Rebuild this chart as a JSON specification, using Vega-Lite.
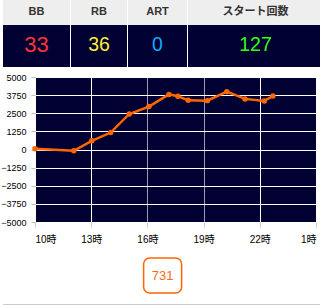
{
  "$schema": "https://vega.github.io/schema/vega-lite/v6.json",
  "padding": 0,
  "background": "white",
  "config": {
    "view": {"stroke": null},
    "font": "Liberation Sans, Noto Sans CJK JP, sans-serif",
    "text": {"font": "Liberation Sans, Noto Sans CJK JP, sans-serif"}
  },
  "spacing": 5,
  "vconcat": [
    {
      "spacing": 0,
      "vconcat": [
        {
          "spacing": 1,
          "hconcat": [
            {"width": 67, "height": 25, "view": {"fill": "#eeeeee", "stroke": null}, "data": {"values": [{"label": "BB"}]}, "mark": {"type": "text", "fontSize": 11, "fontWeight": "bold", "color": "#333333", "dy": -1}, "encoding": {"text": {"field": "label"}}},
            {"width": 56, "height": 25, "view": {"fill": "#eeeeee", "stroke": null}, "data": {"values": [{"label": "RB"}]}, "mark": {"type": "text", "fontSize": 11, "fontWeight": "bold", "color": "#333333", "dy": -1}, "encoding": {"text": {"field": "label"}}},
            {"width": 59, "height": 25, "view": {"fill": "#eeeeee", "stroke": null}, "data": {"values": [{"label": "ART"}]}, "mark": {"type": "text", "fontSize": 11, "fontWeight": "bold", "color": "#333333", "dy": -1}, "encoding": {"text": {"field": "label"}}},
            {"width": 135, "height": 25, "view": {"fill": "#eeeeee", "stroke": null}, "data": {"values": [{"label": "スタート回数"}]}, "mark": {"type": "text", "fontSize": 11, "fontWeight": "bold", "color": "#333333", "dy": -1}, "encoding": {"text": {"field": "label"}}}
          ]
        },
        {
          "spacing": 1,
          "hconcat": [
            {"width": 67, "height": 42, "view": {"fill": "#000033", "stroke": null}, "data": {"values": [{"BB": 33}]}, "mark": {"type": "text", "fontSize": 22, "color": "#ff3333", "dy": -1}, "encoding": {"text": {"field": "BB"}}},
            {"width": 56, "height": 42, "view": {"fill": "#000033", "stroke": null}, "data": {"values": [{"RB": 36}]}, "mark": {"type": "text", "fontSize": 19.5, "color": "#ffee33", "dy": -1}, "encoding": {"text": {"field": "RB"}}},
            {"width": 59, "height": 42, "view": {"fill": "#000033", "stroke": null}, "data": {"values": [{"ART": 0}]}, "mark": {"type": "text", "fontSize": 19.5, "color": "#11aaff", "dy": -1}, "encoding": {"text": {"field": "ART"}}},
            {"width": 135, "height": 42, "view": {"fill": "#000033", "stroke": null}, "data": {"values": [{"start": 127}]}, "mark": {"type": "text", "fontSize": 19.5, "color": "#33ff11", "dy": -1}, "encoding": {"text": {"field": "start"}}}
          ]
        }
      ]
    },
    {
      "spacing": 12,
      "vconcat": [
        {
          "spacing": 0,
          "bounds": "flush",
          "hconcat": [
            {
              "width": 32, "height": 145,
              "data": {"values": [{"blank": ""}]},
              "mark": {"type": "text", "fontSize": 0},
              "encoding": {"text": {"field": "blank"}}
            },
            {
              "width": 281,
              "height": 145,
              "view": {"fill": "#000033", "stroke": "#cccccc"},
              "layer": [
                {
                  "data": {"values": [{"diff": 0}]},
                  "mark": {"type": "rule", "color": "#77ee44", "strokeWidth": 1.5},
                  "encoding": {"y": {"field": "diff", "type": "quantitative"}}
                },
                {
                  "data": {"values": [
                    {"hour": 10.0, "diff": 50},
                    {"hour": 12.07, "diff": -90},
                    {"hour": 13.03, "diff": 600},
                    {"hour": 14.04, "diff": 1170},
                    {"hour": 15.03, "diff": 2450},
                    {"hour": 16.08, "diff": 2960},
                    {"hour": 17.15, "diff": 3800},
                    {"hour": 17.63, "diff": 3670},
                    {"hour": 18.18, "diff": 3390},
                    {"hour": 19.2, "diff": 3370},
                    {"hour": 20.24, "diff": 3990},
                    {"hour": 21.21, "diff": 3490},
                    {"hour": 22.24, "diff": 3350},
                    {"hour": 22.7, "diff": 3690}
                  ]},
                  "mark": {"type": "line", "color": "#ff6600", "strokeWidth": 2.5, "point": {"filled": true, "size": 30, "color": "#ff6600"}},
                  "encoding": {
                    "x": {"field": "hour", "type": "quantitative"},
                    "y": {"field": "diff", "type": "quantitative"}
                  }
                }
              ],
              "encoding": {
                "x": {
                  "field": "hour", "type": "quantitative",
                  "scale": {"domain": [10, 25], "nice": false, "zero": false},
                  "axis": {
                    "title": null,
                    "values": [10, 13, 16, 19, 22, 25],
                    "labelExpr": "(datum.value % 24) + '時'",
                    "grid": true,
                    "gridColor": {"condition": {"test": "datum.value == 16 || datum.value == 19", "value": "#9a9ab8"}, "value": "#ffffff"},
                    "domain": false,
                    "tickColor": "#cccccc",
                    "tickSize": 5,
                    "labelPadding": 7,
                    "labelFontSize": 10,
                    "labelColor": "#000000",
                    "labelFont": "Liberation Sans, Noto Sans CJK JP, sans-serif"
                  }
                },
                "y": {
                  "field": "diff", "type": "quantitative",
                  "scale": {"domain": [-5000, 5000], "nice": false},
                  "axis": {
                    "title": null,
                    "format": "d",
                    "values": [-5000, -3750, -2500, -1250, 0, 1250, 2500, 3750, 5000],
                    "grid": true,
                    "gridColor": "#ffffff",
                    "domain": false,
                    "tickColor": "#bbbbbb",
                    "tickSize": 4,
                    "labelPadding": 5,
                    "labelFontSize": 9,
                    "labelColor": "#000000",
                    "labelFont": "Liberation Sans, sans-serif"
                  }
                }
              }
            }
          ]
        },
        {
          "spacing": 10,
          "center": true,
          "vconcat": [
            {
              "width": 38, "height": 35,
              "view": {"fill": "#ffffff", "stroke": "#ff6600", "strokeWidth": 1.5, "cornerRadius": 6},
              "data": {"values": [{"count": 731}]},
              "mark": {"type": "text", "fontSize": 13, "color": "#ff6a10"},
              "encoding": {"text": {"field": "count"}}
            },
            {
              "width": 320, "height": 3,
              "view": {"fill": "#cccccc", "stroke": null},
              "data": {"values": [{"blank": ""}]},
              "mark": {"type": "text", "fontSize": 0},
              "encoding": {"text": {"field": "blank"}}
            }
          ]
        }
      ]
    }
  ]
}
